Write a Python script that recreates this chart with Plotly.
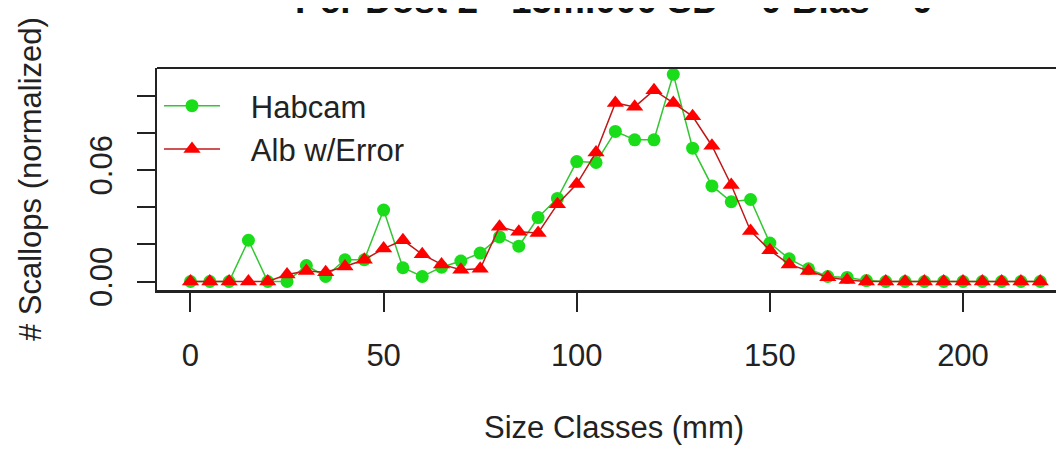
import plotly.graph_objects as go

size_classes = list(range(0, 225, 5))

habcam = [0, 0, 0, 0.0222, 0, 0, 0.0086, 0.0027, 0.0117, 0.0117,
          0.0384, 0.0074, 0.0027, 0.0077, 0.0110, 0.0153, 0.0240, 0.0190, 0.0344, 0.0447,
          0.0645, 0.0640, 0.0807, 0.0762, 0.0762, 0.1114, 0.0717, 0.0514, 0.0429, 0.0441,
          0.0207, 0.0122, 0.0068, 0.0027, 0.0022, 0.0005,
          0, 0, 0, 0, 0, 0, 0, 0, 0]

alb_error = [0, 0, 0, 0, 0, 0.0038, 0.0056, 0.0050, 0.0081, 0.0117,
             0.0177, 0.0222, 0.0146, 0.0092, 0.0063, 0.0068, 0.0294, 0.0267, 0.0261, 0.0416,
             0.0524, 0.0694, 0.0960, 0.0939, 0.1029, 0.0960, 0.0888, 0.0730, 0.0519, 0.0272,
             0.0168, 0.0092, 0.0056, 0.0023, 0.0008,
             0, 0, 0, 0, 0, 0, 0, 0, 0, 0]

series_names = ["Habcam", "Alb w/Error"]

y_tickvals = [0.00, 0.02, 0.04, 0.06, 0.08, 0.10]
y_ticktext = ["0.00", "", "", "0.06", "", ""]
x_tickvals = [0, 50, 100, 150, 200]

title_text = "Per Dost 2 - 15m.000 SD = 0 Bias = 0"
x_title = "Size Classes (mm)"
y_title = "# Scallops (normalized)"

FONT = "Liberation Sans, Arial, sans-serif"
INK = "#222222"

OFF = 8  # page body margin
W, H = 1064 - OFF, 449 - OFF
L, R, T, B = 157 - OFF, 0, 68 - OFF, 449 - 291
PW, PH = W - L - R, H - T - B


def px(xw):
    return (xw - OFF - L) / PW


def py(yw):
    return (H - B - (yw - OFF)) / PH


NB = "\u00a0\u00a0\u00a0"

fig = go.Figure()
fig.add_trace(go.Scatter(
    x=size_classes, y=habcam, name=NB + series_names[0], mode="lines+markers",
    line=dict(color="#33c633", width=1.5),
    marker=dict(symbol="circle", size=13, color="#1add1a"),
))
fig.add_trace(go.Scatter(
    x=size_classes, y=alb_error, name=NB + series_names[1], mode="lines+markers",
    line=dict(color="#c01818", width=1.5),
    marker=dict(symbol="triangle-up", size=15, color="#ff0000"),
))

fig.update_layout(
    width=W, height=H,
    margin=dict(l=L, r=R, t=T, b=B, pad=0),
    paper_bgcolor="white", plot_bgcolor="white",
    font=dict(family=FONT, size=31, color=INK),
    showlegend=True,
    legend=dict(
        x=px(159), y=py(79), xanchor="left", yanchor="top",
        bgcolor="rgba(0,0,0,0)", font=dict(size=31, color=INK),
        itemwidth=56, tracegroupgap=0,
    ),
    xaxis=dict(
        range=[-8.67, 226.15], tickvals=x_tickvals,
        showgrid=False, zeroline=False,
        showline=True, linecolor=INK, linewidth=2,
        ticks="outside", ticklen=19, tickwidth=2, tickcolor=INK,
        tickfont=dict(size=31, color=INK), ticklabelstandoff=17,
    ),
    yaxis=dict(
        range=[-0.0051, 0.1148], tickvals=y_tickvals, ticktext=y_ticktext,
        showgrid=False, zeroline=False,
        showline=True, linecolor=INK, linewidth=2,
        ticks="outside", ticklen=18, tickwidth=2, tickcolor=INK,
        tickangle=-90, tickfont=dict(size=31, color=INK), ticklabelstandoff=13,
    ),
    shapes=[
        dict(type="line", xref="paper", yref="paper", x0=0, x1=1.02, y0=1, y1=1,
             line=dict(color=INK, width=2)),
        dict(type="line", xref="paper", yref="paper", x0=0, x1=1.02, y0=0, y1=0,
             line=dict(color=INK, width=2)),
    ],
    annotations=[
        dict(text="<b>" + title_text + "</b>", xref="paper", yref="paper",
             x=px(614), y=py(23), xanchor="center", yanchor="bottom",
             showarrow=False, font=dict(size=37, color="#111111")),
        dict(text=x_title, xref="paper", yref="paper",
             x=px(614), y=py(427), xanchor="center", yanchor="middle",
             showarrow=False, font=dict(size=31, color=INK)),
        dict(text=y_title, xref="paper", yref="paper",
             x=px(30), y=py(179), xanchor="center", yanchor="middle",
             textangle=-90, showarrow=False, font=dict(size=31, color=INK)),
    ],
)

fig.write_html("out.html")
